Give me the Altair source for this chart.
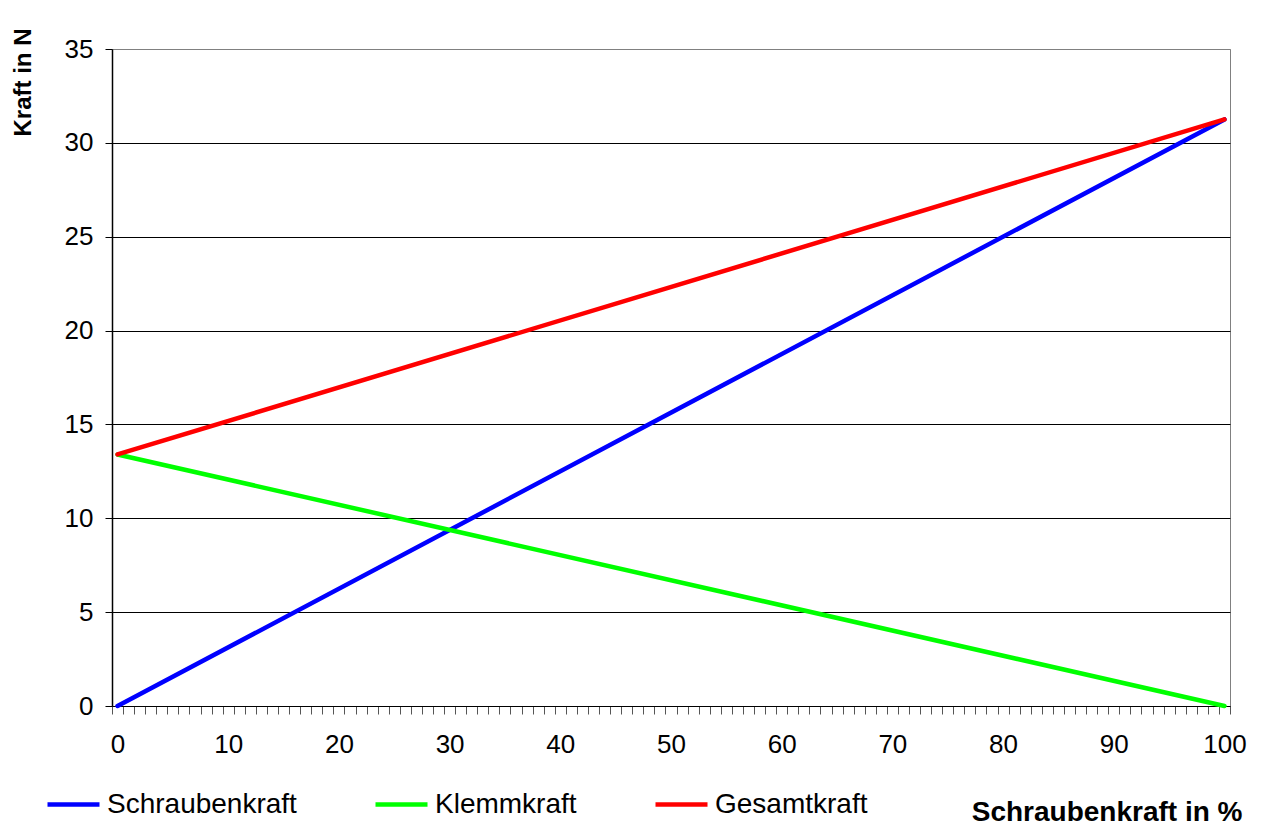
import altair as alt
import pandas as pd

# Schraubenkraft in % (start and end of each straight line)
percent = [0, 100]
schraubenkraft = [0.0, 31.25]
klemmkraft = [13.4, 0.0]
gesamtkraft = [13.4, 31.25]

series_names = ["Schraubenkraft", "Klemmkraft", "Gesamtkraft"]
series_colors = ["#0000FF", "#00FF00", "#FF0000"]
y_ticks = [0, 5, 10, 15, 20, 25, 30, 35]

rows = []
for name, vals in zip(series_names, [schraubenkraft, klemmkraft, gesamtkraft]):
    for p, v in zip(percent, vals):
        rows.append({"pct": p, "kraft": v, "serie": name})
df = pd.DataFrame(rows)

# category boundaries: one slot per whole percent, ticks between slots
x_boundaries = [i - 0.5 for i in range(102)]
font = "Liberation Sans"

x_scale = alt.Scale(domain=[-0.5, 100.5], nice=False, zero=False)
y_scale = alt.Scale(domain=[0, 35], nice=False)

chart = (
    alt.Chart(df)
    .mark_line(strokeWidth=4.5, strokeCap="round")
    .encode(
        x=alt.X(
            "pct:Q",
            scale=x_scale,
            axis=alt.Axis(
                values=x_boundaries,
                grid=False,
                tickSize=8,
                tickColor="#555555",
                tickWidth=1,
                domainColor="#000000",
                domainWidth=1,
                labelExpr="(datum.value + 0.5) % 10 == 0 ? format(datum.value + 0.5, 'd') : ''",
                labelOffset=5.5,
                labelOverlap=False,
                labelFlush=False,
                labelBound=False,
                labelFont=font,
                labelFontSize=26,
                labelColor="#000000",
                labelPadding=17,
                title="Schraubenkraft in %",
                titleFont=font,
                titleFontSize=28,
                titleFontWeight="bold",
                titleColor="#000000",
                titleAlign="right",
                titleAnchor="end",
                titleBaseline="alphabetic",
                titleX=1130,
                titleY=114,
            ),
        ),
        y=alt.Y(
            "kraft:Q",
            scale=y_scale,
            axis=alt.Axis(
                values=y_ticks,
                grid=True,
                gridColor={"condition": {"test": "datum.value == 35", "value": "#808080"}, "value": "#000000"},
                gridWidth=1,
                tickSize=7,
                tickColor="#000000",
                domainColor="#000000",
                domainWidth=1.5,
                labelFont=font,
                labelFontSize=26,
                labelColor="#000000",
                labelPadding=12,
                title="Kraft in N",
                titleFont=font,
                titleFontSize=24,
                titleFontWeight="bold",
                titleColor="#000000",
                titleAngle=270,
                titleAlign="center",
                titleBaseline="middle",
                titleX=-89,
                titleY=33,
            ),
        ),
        color=alt.Color(
            "serie:N",
            scale=alt.Scale(domain=series_names, range=series_colors),
            sort=series_names,
            legend=alt.Legend(
                title=None,
                orient="none",
                direction="horizontal",
                legendX=-67,
                legendY=727,
                symbolType="stroke",
                symbolStrokeWidth=4.5,
                symbolSize=2704,
                labelFont=font,
                labelFontSize=28,
                labelColor="#000000",
                labelLimit=0,
                labelOffset=5,
                columnPadding=69,
                gridAlign="none",
                padding=0,
            ),
        ),
    )
    .properties(width=1118, height=657)
    .configure(
        autosize=alt.AutoSizeParams(type="none"),
        padding={"left": 112, "top": 49, "right": 35, "bottom": 120},
        background="#FFFFFF",
    )
    .configure_view(stroke="#808080", strokeWidth=1)
)

chart.save("out.html", embed_options={"renderer": "svg", "actions": False})
